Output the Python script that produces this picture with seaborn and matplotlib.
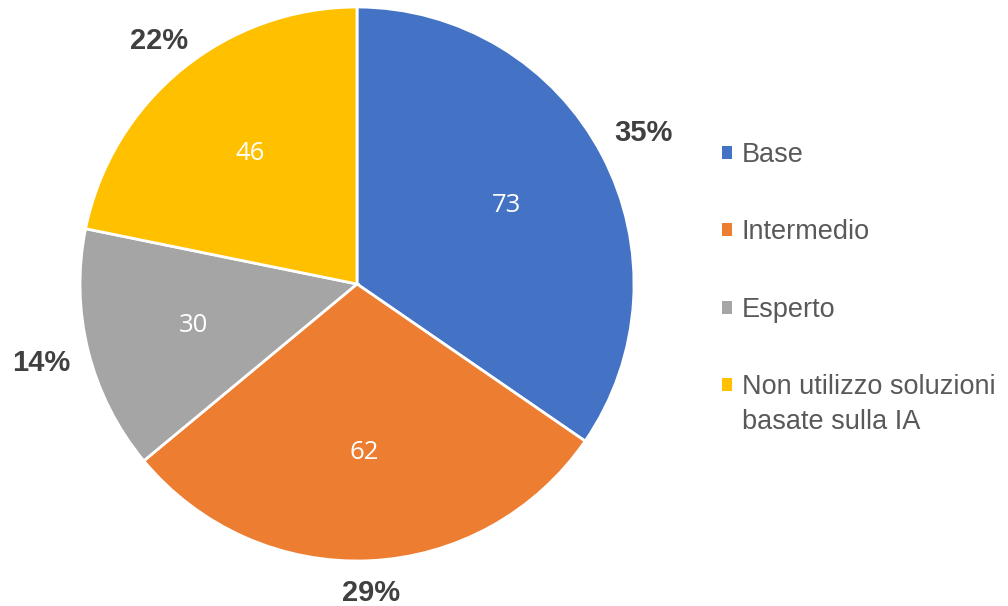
"""
Livello di utilizzo delle soluzioni IA - grafico a torta
"""
import matplotlib
matplotlib.use("Agg")
import numpy as np
import matplotlib.pyplot as plt
import seaborn as sns
from matplotlib.patches import Patch

sns.set_theme(style="white")
plt.rcParams['font.family'] = ['Liberation Sans', 'DejaVu Sans']

# dati
categorie = ['Base', 'Intermedio', 'Esperto', 'Non utilizzo soluzioni']
seconda_riga = 'basate sulla IA'   # continuazione dell'ultima voce di legenda
valori = [73, 62, 30, 46]
colori = ['#4472C4', '#ED7D31', '#A5A5A5', '#FFC000']

totale = sum(valori)
percentuali = [f"{v / totale * 100:.0f}%" for v in valori]

fig = plt.figure(figsize=(10.08, 6.06), dpi=100)
ax = fig.add_axes([80 / 1008, 45 / 606, 554 / 1008, 554 / 606])

wedges, testi, valori_txt = ax.pie(
    valori, labels=percentuali, colors=colori, startangle=90, counterclock=False,
    autopct=lambda p: f"{p * totale / 100:.0f}", pctdistance=0.61, labeldistance=1.08,
    wedgeprops=dict(edgecolor='white', linewidth=2),
)
ax.set_aspect('equal')
ax.set_xlim(-1, 1)
ax.set_ylim(-1, 1)

# etichette esterne: come in Excel, il riquadro del testo tocca il punto sul bordo
r_px = 277.0
semi_w, semi_h = 27.0, 12.0
for w, t in zip(wedges, testi):
    ang = np.deg2rad((w.theta1 + w.theta2) / 2)
    c, s = np.cos(ang), np.sin(ang)
    d = min(semi_w / max(abs(c), 1e-6), semi_h / max(abs(s), 1e-6))
    r = 1.075 + d / r_px
    t.set_position((r * c, r * s))
    t.set_ha('center')
    t.set_va('center')
    t.set_fontsize(21)
    t.set_fontweight('bold')
    t.set_color('#404040')

for t in valori_txt:
    t.set_color('white')
    t.set_fontsize(18.5)
    t.set_family(['Open Sans', 'DejaVu Sans'])

handles = [Patch(facecolor=c, edgecolor='none') for c in colori]
leg = fig.legend(handles, categorie, loc='upper left', bbox_to_anchor=(722 / 1008, 1 - 142 / 606),
                 frameon=False, fontsize=19.5, labelcolor='#595959',
                 handlelength=0.38, handleheight=0.38, handletextpad=0.35,
                 labelspacing=1.9, borderaxespad=0, borderpad=0)

# seconda riga dell'ultima voce, allineata al testo della legenda
fig.canvas.draw()
bb = leg.get_texts()[-1].get_window_extent()
fig.text(bb.x0 / fig.bbox.width, (bb.y0 - 35) / fig.bbox.height, seconda_riga,
         fontsize=19.5, color='#595959', ha='left', va='bottom')

plt.savefig('out.png', dpi=100)
plt.close()
